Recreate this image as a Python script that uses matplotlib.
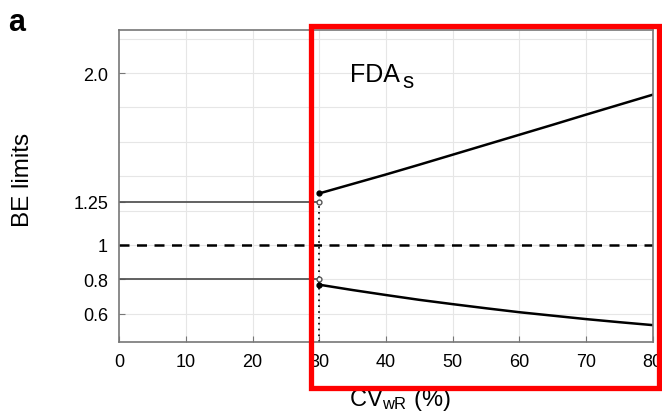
import matplotlib.pyplot as plt
from matplotlib.patches import Rectangle

plt.rcParams['font.family'] = ['Liberation Sans', 'DejaVu Sans']
plt.rcParams['mathtext.default'] = 'regular'

# values
cv = [30, 35, 40, 45, 50, 55, 60, 65, 70, 75, 80]
upper = [1.30, 1.355, 1.41, 1.467, 1.525, 1.583, 1.641, 1.699, 1.758, 1.816, 1.874]
lower = [0.769, 0.738, 0.709, 0.681, 0.656, 0.632, 0.609, 0.589, 0.569, 0.551, 0.534]
flat_x = [0, 30]
flat_hi = [1.25, 1.25]
flat_lo = [0.8, 0.8]
ref_x = [0, 80]
ref_y = [1, 1]

xticks = [0, 10, 20, 30, 40, 50, 60, 70, 80]
yticks = [0.6, 0.8, 1.0, 1.25, 2.0]
ytick_labels = ['0.6', '0.8', '1', '1.25', '2.0']
grid_y = [0.6, 0.8, 1.0, 1.2, 1.4, 1.6, 1.8, 2.0, 2.2]

fig = plt.figure(figsize=(6.62, 4.14), dpi=100)
ax = fig.add_axes([0.180, 0.172, 0.806, 0.753])

# light grid
for g in grid_y:
    ax.axhline(g, color='#e6e6e6', lw=0.8, zorder=0)
for g in xticks[1:-1]:
    ax.axvline(g, color='#e6e6e6', lw=0.8, zorder=0)

ax.plot(flat_x, flat_hi, color='#555555', lw=1.3)
ax.plot(flat_x, flat_lo, color='#555555', lw=1.3)
ax.plot(ref_x, ref_y, color='black', lw=1.8, ls=(0, (4, 3)))
ax.plot(cv, upper, color='black', lw=1.8)
ax.plot(cv, lower, color='black', lw=1.8)

# switch point at 30 %
ax.plot([30, 30], [0.437, 1.25], color='black', lw=1.2, ls=(0, (1, 2.5)))
ax.plot([30, 30], [1.25, 0.8], 'o', ms=3.5, mfc='white', mec='#555555', mew=1)
ax.plot(cv[0], upper[0], 'o', ms=3.5, color='black')
ax.plot(cv[0], lower[0], 'o', ms=3.5, color='black')

ax.set_xlim(0, 80)
ax.set_ylim(0.437, 2.25)
ax.set_xticks(xticks)
ax.set_yticks(yticks)
ax.set_yticklabels(ytick_labels)
ax.tick_params(direction='in', length=4, color='#777777', labelsize=13, pad=8)
for s in ax.spines.values():
    s.set_color('#777777')
    s.set_linewidth(1.2)

ax.text(34.6, 1.953, 'FDA', fontsize=18, va='baseline', ha='left')
ax.text(42.5, 1.919, 's', fontsize=16, va='baseline', ha='left')

fig.text(0.034, 0.565, 'BE limits', rotation=90, fontsize=17.5, va='center', ha='center')
fig.text(0.604, 0.034, 'CV$_{wR}$ (%)', fontsize=17, va='center', ha='center')
fig.text(0.012, 0.944, 'a', fontsize=22, fontweight='bold', va='center', ha='left')

# red highlight box
fig.patches.append(Rectangle((0.4698, 0.0604), 0.5257, 0.8732, transform=fig.transFigure,
                             fill=False, edgecolor='#ff0000', lw=3.8, zorder=10))

fig.savefig('out.png', dpi=100)
